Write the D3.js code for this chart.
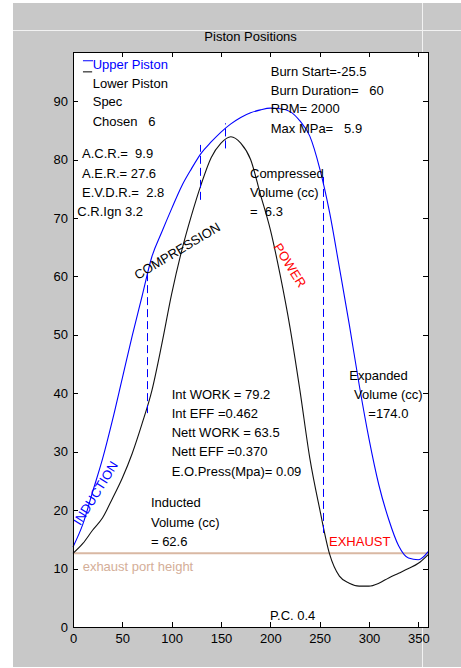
<!DOCTYPE html>
<html>
<head>
<meta charset="utf-8">
<script src="https://cdn.jsdelivr.net/npm/d3@7/dist/d3.min.js"></script>
<style>
body { margin: 0; background: #fff; }
svg { display: block; font-family: "Liberation Sans", Arial, sans-serif; font-size: 13px; }
text { white-space: pre; }
</style>
</head>
<body>
<svg id="chart" width="461" height="668"></svg>
<script>
// crank angle (deg) and piston positions
const crankAngle  = [0, 10, 20, 30, 40, 50, 60, 70, 80, 90, 100, 110, 120, 130, 140, 150, 160, 170, 180,
                     190, 200, 210, 220, 230, 240, 250, 260, 270, 280, 290, 300, 310, 320, 330, 340, 350, 360];
const upperPiston = [13.7, 17.6, 23.2, 28.8, 35.4, 42.6, 49.8, 56.6, 63.4, 67.6, 71.6, 75.4, 78.4, 81.1, 83.0, 84.7, 86.1, 87.2, 88.0,
                     88.5, 88.8, 88.7, 88.2, 86.6, 84.0, 78.5, 71.0, 61.5, 51.8, 41.5, 32.2, 24.3, 18.4, 13.9, 11.8, 11.5, 12.9];
const lowerPiston = [12.6, 14.3, 16.6, 18.7, 22.0, 25.5, 29.7, 34.8, 40.5, 48.4, 57.0, 64.3, 70.4, 75.8, 80.3, 82.8, 83.9, 82.8, 80.0,
                     74.0, 68.0, 60.2, 51.2, 40.5, 28.9, 20.2, 12.5, 8.7, 7.5, 7.0, 7.0, 7.5, 8.4, 9.2, 10.0, 10.9, 12.4];
const exhaustPortHeight = 12.6;

// port / burn events (dashed markers)
const eventAngle = [74.7, 128.7, 154, 253.7];
const eventLow   = [36.6, 73.1, 81.9, 16.1];
const eventHigh  = [60.8, 82.5, 86.2, 77.7];

const xTicks = [0, 50, 100, 150, 200, 250, 300, 350];
const yTicks = [0, 10, 20, 30, 40, 50, 60, 70, 80, 90];

let plotLeft = 73, plotRight = 428.2, plotTop = 52, plotBottom = 627;

let x = d3.scaleLinear().domain([0, 360]).range([plotLeft, plotRight]);
let y = d3.scaleLinear().domain([0, 98.4]).range([plotBottom, plotTop]);

let svg = d3.select("#chart");

// figure background
svg.append("rect")
   .attr("x", 13).attr("y", 3)
   .attr("width", 448).attr("height", 664)
   .attr("fill", "#c8c8c8");

// window artefacts
svg.append("line")
   .attr("x1", 13).attr("x2", 461).attr("y1", 30.5).attr("y2", 30.5)
   .attr("stroke", "#f2f2f2");
svg.append("line")
   .attr("x1", 422.5).attr("x2", 422.5).attr("y1", 3).attr("y2", 667)
   .attr("stroke", "#f2f2f2");

svg.append("rect")
   .attr("x", plotLeft).attr("y", plotTop)
   .attr("width", plotRight - plotLeft).attr("height", plotBottom - plotTop)
   .attr("fill", "#fff");

svg.append("text")
   .attr("x", (plotLeft + plotRight) / 2)
   .attr("y", 40.5)
   .attr("text-anchor", "middle")
   .text("Piston Positions");

// exhaust port height
svg.append("line")
   .attr("x1", x(0)).attr("x2", x(360))
   .attr("y1", y(exhaustPortHeight)).attr("y2", y(exhaustPortHeight))
   .attr("stroke", "#d9b8a3")
   .attr("stroke-width", 2);

let line = d3.line()
  .x(d => x(d[0]))
  .y(d => y(d[1]))
  .curve(d3.curveMonotoneX);

svg.append("path")
   .datum(crankAngle.map((a, i) => [a, upperPiston[i]]))
   .attr("d", line)
   .attr("fill", "none")
   .attr("stroke", "#0000ff")
   .attr("stroke-width", 1.1);

svg.append("path")
   .datum(crankAngle.map((a, i) => [a, lowerPiston[i]]))
   .attr("d", line)
   .attr("fill", "none")
   .attr("stroke", "#111")
   .attr("stroke-width", 1.1);

svg.append("g")
   .selectAll("line")
   .data(eventAngle)
   .join("line")
   .attr("x1", d => Math.round(x(d)) + 0.5)
   .attr("x2", d => Math.round(x(d)) + 0.5)
   .attr("y1", (d, i) => y(eventLow[i]))
   .attr("y2", (d, i) => y(eventHigh[i]))
   .attr("stroke", "#0000ff")
   .attr("stroke-dasharray", "8,4");

// legend samples
svg.append("line")
   .attr("x1", x(10.1)).attr("x2", x(20.3)).attr("y1", y(96.9)).attr("y2", y(96.9))
   .attr("stroke", "#0000ff");
svg.append("line")
   .attr("x1", x(10.1)).attr("x2", x(19.4)).attr("y1", y(95.0)).attr("y2", y(95.0))
   .attr("stroke", "#000");

let notes = [
  ["Upper Piston", 20, 96.3, "#0000ff"],
  ["Lower Piston", 20, 93.1],
  ["Spec", 20, 89.9],
  ["Chosen   6", 20, 86.5],
  ["Burn Start=-25.5", 200.4, 95.1],
  ["Burn Duration=   60", 200.4, 91.9],
  ["RPM= 2000", 200.4, 88.7],
  ["Max MPa=   5.9", 200.4, 85.4],
  ["A.C.R.=  9.9", 9.1, 81.1],
  ["A.E.R.= 27.6", 9.1, 77.6],
  ["E.V.D.R.=  2.8", 9.1, 74.3],
  ["C.R.Ign 3.2", 4.4, 71.1],
  ["Compressed", 179.4, 77.6],
  ["Volume (cc)", 179.4, 74.3],
  ["=  6.3", 179.4, 71.1],
  ["Int WORK = 79.2", 100, 39.8],
  ["Int EFF =0.462", 100, 36.6],
  ["Nett WORK = 63.5", 100, 33.3],
  ["Nett EFF =0.370", 100, 30.0],
  ["E.O.Press(Mpa)= 0.09", 100, 26.7],
  ["Expanded", 280, 43.1],
  ["Volume (cc)", 284.8, 39.8],
  ["=174.0", 299.3, 36.6],
  ["Inducted", 79, 21.3],
  ["Volume (cc)", 79, 17.9],
  ["= 62.6", 79, 14.7],
  ["EXHAUST", 259.5, 14.6, "#ff0000"],
  ["exhaust port height", 9.8, 10.4, "#d4ae98"],
  ["P.C. 0.4", 199.7, 1.9]
];

svg.append("g")
   .selectAll("text")
   .data(notes)
   .join("text")
   .attr("x", d => x(d[1]))
   .attr("y", d => y(d[2]))
   .attr("dy", "0.35em")
   .attr("fill", d => d[3] || "#000")
   .text(d => d[0]);

let phases = [
  ["COMPRESSION", 108, 63.7, -31, "#000"],
  ["POWER", 216, 61.5, 58, "#ff0000"],
  ["INDUCTION", 26.8, 22.5, -58, "#0000ff"]
];

svg.append("g")
   .selectAll("text")
   .data(phases)
   .join("text")
   .attr("text-anchor", "middle")
   .attr("transform", d => `translate(${x(d[1])},${y(d[2])}) rotate(${d[3]})`)
   .attr("fill", d => d[4])
   .text(d => d[0]);

// axes with inward ticks, box
let axisLeft = svg.append("g")
   .attr("transform", `translate(${plotLeft},0)`)
   .call(d3.axisLeft(y).tickValues(yTicks).tickSizeInner(-5).tickSizeOuter(0).tickPadding(5));
let axisRight = svg.append("g")
   .attr("transform", `translate(${plotRight},0)`)
   .call(d3.axisRight(y).tickValues(yTicks).tickSizeInner(-5).tickSizeOuter(0).tickFormat(""));
let axisBottom = svg.append("g")
   .attr("transform", `translate(0,${plotBottom})`)
   .call(d3.axisBottom(x).tickValues(xTicks).tickSizeInner(-5).tickSizeOuter(0).tickPadding(7));
let axisTop = svg.append("g")
   .attr("transform", `translate(0,${plotTop})`)
   .call(d3.axisTop(x).tickValues(xTicks).tickSizeInner(-5).tickSizeOuter(0).tickFormat(""));

[axisLeft, axisRight, axisBottom, axisTop].forEach(a => {
  a.select(".domain").remove();
  a.selectAll("line").attr("stroke", "#000").attr("shape-rendering", "crispEdges");
  a.selectAll("text")
   .attr("font-family", "Liberation Sans, Arial, sans-serif")
   .attr("font-size", 13)
   .attr("fill", "#000");
});

svg.append("rect")
   .attr("x", plotLeft).attr("y", plotTop)
   .attr("width", plotRight - plotLeft).attr("height", plotBottom - plotTop)
   .attr("fill", "none")
   .attr("stroke", "#000")
   .attr("shape-rendering", "crispEdges");
</script>
</body>
</html>
